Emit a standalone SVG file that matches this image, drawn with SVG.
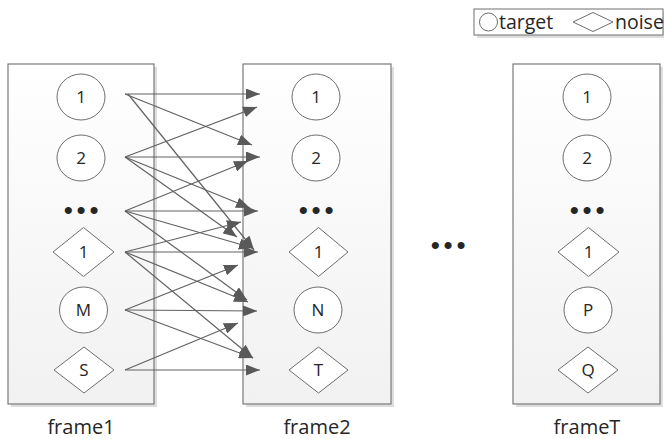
<svg xmlns="http://www.w3.org/2000/svg" width="664" height="439" viewBox="0 0 664 439">
<style>
.frame{fill:url(#fg);stroke:#7a7a7a;stroke-width:1.2}
.shadow{fill:#dedede}
.node{fill:#ffffff;stroke:#6e6e6e;stroke-width:1}
.lbl{font-family:"Open Sans","Liberation Sans",sans-serif;font-size:17px;fill:#262626;text-anchor:middle}
.flbl{font-family:"Open Sans","Liberation Sans",sans-serif;font-size:20px;fill:#262626;text-anchor:middle}
.dots{font-family:"Liberation Sans",sans-serif;font-size:26px;fill:#262626;text-anchor:middle;letter-spacing:3.8px}
.leg{font-family:"Open Sans","Liberation Sans",sans-serif;font-size:19.5px;fill:#262626}
.conn line{stroke:#626262;stroke-width:1.2;marker-end:url(#ah)}
</style>
<defs>
<linearGradient id="fg" x1="0" y1="0" x2="0" y2="1">
<stop offset="0" stop-color="#ffffff"/>
<stop offset="1" stop-color="#f1f1f1"/>
</linearGradient>
<marker id="ah" markerUnits="userSpaceOnUse" markerWidth="15" markerHeight="11" refX="14" refY="5.5" orient="auto">
<path d="M0,0 L14,5.5 L0,11 z" fill="#595959"/>
</marker>
</defs>
<rect width="664" height="439" fill="#ffffff"/>

<g id="legend">
<rect x="477" y="12" width="187" height="26" class="shadow"/>
<rect x="474" y="9" width="189" height="26" fill="#ffffff" stroke="#6e6e6e" stroke-width="1"/>
<circle cx="488.5" cy="22" r="9" class="node"/>
<text x="499" y="29" class="leg">target</text>
<path d="M573,22 L593,12.5 L613,22 L593,31.5 z" class="node"/>
<text x="615" y="29" class="leg">noise</text>
</g>

<g id="frame1">
<rect x="11" y="67" width="146" height="340" class="shadow"/>
<rect x="8" y="64" width="146" height="340" class="frame"/>
<text x="81" y="434" class="flbl">frame1</text>
</g>
<g id="frame2">
<rect x="246" y="67" width="148" height="340" class="shadow"/>
<rect x="243" y="64" width="148" height="340" class="frame"/>
<text x="317" y="434" class="flbl">frame2</text>
</g>
<g id="frameT">
<rect x="516" y="67" width="147" height="340" class="shadow"/>
<rect x="513" y="64" width="147" height="340" class="frame"/>
<text x="587" y="434" class="flbl">frameT</text>
</g>

<g id="f1-t1"><ellipse cx="81" cy="97" rx="24" ry="23" class="node"/><text x="81" y="103" class="lbl">1</text></g>
<g id="f1-t2"><ellipse cx="81" cy="158" rx="24" ry="23" class="node"/><text x="81" y="164" class="lbl">2</text></g>
<g id="f1-dots"><text x="83" y="219" class="dots">•••</text></g>
<g id="f1-n1"><path d="M53,252 L83.5,227.5 L114,252 L83.5,276.5 z" class="node"/><text x="83.5" y="258" class="lbl">1</text></g>
<g id="f1-tM"><ellipse cx="83.5" cy="310" rx="24" ry="23" class="node"/><text x="83.5" y="316" class="lbl">M</text></g>
<g id="f1-nS"><path d="M54,370 L84,347 L114,370 L84,393 z" class="node"/><text x="84" y="376" class="lbl">S</text></g>

<g id="f2-t1"><ellipse cx="316" cy="97" rx="24" ry="23" class="node"/><text x="316" y="103" class="lbl">1</text></g>
<g id="f2-t2"><ellipse cx="316" cy="158" rx="24" ry="23" class="node"/><text x="316" y="164" class="lbl">2</text></g>
<g id="f2-dots"><text x="318" y="219" class="dots">•••</text></g>
<g id="f2-n1"><path d="M289,252 L318.5,227.5 L348,252 L318.5,276.5 z" class="node"/><text x="318.5" y="258" class="lbl">1</text></g>
<g id="f2-tN"><ellipse cx="318" cy="310" rx="24" ry="23" class="node"/><text x="318" y="316" class="lbl">N</text></g>
<g id="f2-nT"><path d="M289,370 L318.5,347 L348,370 L318.5,393 z" class="node"/><text x="318.5" y="376" class="lbl">T</text></g>

<g id="mid-dots"><text x="450" y="254" class="dots">•••</text></g>

<g id="fT-t1"><ellipse cx="587" cy="97" rx="24" ry="23" class="node"/><text x="587" y="103" class="lbl">1</text></g>
<g id="fT-t2"><ellipse cx="587" cy="158" rx="24" ry="23" class="node"/><text x="587" y="164" class="lbl">2</text></g>
<g id="fT-dots"><text x="589" y="219" class="dots">•••</text></g>
<g id="fT-n1"><path d="M558,252 L588.5,227.5 L619,252 L588.5,276.5 z" class="node"/><text x="588.5" y="258" class="lbl">1</text></g>
<g id="fT-tP"><ellipse cx="588" cy="310" rx="24" ry="23" class="node"/><text x="588" y="316" class="lbl">P</text></g>
<g id="fT-nQ"><path d="M558,370 L588,347 L618,370 L588,393 z" class="node"/><text x="588" y="376" class="lbl">Q</text></g>

<g id="connectors" class="conn">
<line x1="125" y1="94" x2="260" y2="94"/>
<line x1="125" y1="94" x2="252" y2="145"/>
<line x1="128" y1="94" x2="254" y2="250"/>
<line x1="125" y1="157" x2="257" y2="107"/>
<line x1="125" y1="157" x2="260" y2="157"/>
<line x1="125" y1="157" x2="250" y2="208"/>
<line x1="125" y1="157" x2="237" y2="237"/>
<line x1="125" y1="211" x2="248" y2="161"/>
<line x1="125" y1="211" x2="258" y2="211"/>
<line x1="125" y1="211" x2="253" y2="248"/>
<line x1="125" y1="211" x2="247" y2="300"/>
<line x1="125" y1="252" x2="241" y2="222"/>
<line x1="125" y1="252" x2="258" y2="252"/>
<line x1="125" y1="252" x2="248" y2="302"/>
<line x1="125" y1="252" x2="253" y2="358"/>
<line x1="125" y1="310" x2="238" y2="265"/>
<line x1="125" y1="310" x2="257" y2="311"/>
<line x1="125" y1="310" x2="253" y2="358"/>
<line x1="125" y1="370" x2="238" y2="323"/>
<line x1="125" y1="370" x2="260" y2="370"/>
</g>
</svg>
